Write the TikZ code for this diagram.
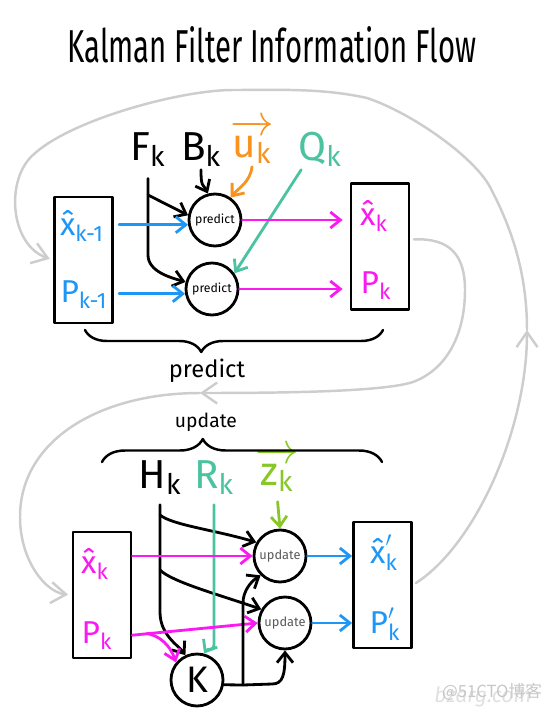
\documentclass[tikz,border=0pt]{standalone}
\usepackage{amsmath}
\usepackage{fontspec}
\setmainfont{Fira Sans}
\newfontfamily\cjkfont{Noto Sans CJK SC}
\usetikzlibrary{arrows.meta,decorations.pathreplacing}

\definecolor{kfblue}{RGB}{30,150,245}
\definecolor{kfpink}{RGB}{250,25,240}
\definecolor{kforange}{RGB}{247,147,30}
\definecolor{kfteal}{RGB}{75,195,160}
\definecolor{kfgreen}{RGB}{135,200,40}
\definecolor{kfloop}{RGB}{205,205,205}

\begin{document}
\begin{tikzpicture}[x=0.02cm,y=-0.02cm,line width=1.6pt,line cap=round,line join=round,
  >={Straight Barb[length=0.2cm,width=0.32cm]},
  store/.style={draw,minimum width=1.16cm,minimum height=2.52cm,inner sep=0pt},
  filt/.style={draw,circle,minimum size=1.04cm,inner sep=0pt},
  sym/.style={anchor=base,inner sep=1pt,font=\fontsize{23}{26}\selectfont},
  vars/.style={anchor=base,inner sep=1pt,font=\fontsize{18}{21}\selectfont},
  feedback/.style={draw=kfloop,line width=1.4pt,-{Straight Barb[length=0.3cm,width=0.42cm]}}]

\useasboundingbox (0,0) rectangle (550,710);

\node[anchor=base] (title) at (272,62) {\resizebox{8.18cm}{0.72cm}{Kalman Filter Information Flow}};

\node[anchor=base,text=black!12,font=\itshape\fontsize{12}{14}\selectfont] (site) at (483,702) {bzarg.com};
\node[anchor=base,text=black!22,font=\cjkfont\fontsize{9.5}{11}\selectfont] (mark) at (492,697) {@51CTO博客};

\node[store] (boxA) at (83.5,260) {};
\node[store] (boxB) at (380,246.5) {};
\node[store] (boxC) at (102,595) {};
\node[store] (boxD) at (382.5,585) {};

\node[vars,kfblue] (xa) at (82,235) {$\text{\^{x}}_{\text{k-1}}$};
\node[vars,kfblue] (pa) at (84,302) {$\text{P}_{\text{k-1}}$};
\node[vars,kfpink] (xb) at (374,225) {$\text{\^{x}}_{\text{k}}$};
\node[vars,kfpink] (pb) at (376,293) {$\text{P}_{\text{k}}$};
\node[vars,kfpink] (xc) at (95,573) {$\text{\^{x}}_{\text{k}}$};
\node[vars,kfpink] (pc) at (97,643) {$\text{P}_{\text{k}}$};
\node[vars,kfblue] (xd) at (384,563) {$\text{\^{x}}'_{\text{k}}$};
\node[vars,kfblue] (pd) at (385,633) {$\text{P}'_{\text{k}}$};

\node[sym] (Fk) at (148,160) {$\text{F}_{\text{k}}$};
\node[sym] (Bk) at (201,160) {$\text{B}_{\text{k}}$};
\node[sym,kforange] (uk) at (252,157) {$\overrightarrow{\text{u}_{\text{k}}}$};
\node[sym,kfteal] (Qk) at (320,160) {$\text{Q}_{\text{k}}$};
\node[sym] (Hk) at (160,488) {$\text{H}_{\text{k}}$};
\node[sym,kfteal] (Rk) at (214,488) {$\text{R}_{\text{k}}$};
\node[sym,kfgreen] (zk) at (277,485) {$\overrightarrow{\text{z}_{\text{k}}}$};

\node[filt,font=\fontsize{7}{8}\selectfont] (pr1) at (215,220) {predict};
\node[filt,font=\fontsize{7}{8}\selectfont] (pr2) at (212,289) {predict};
\node[filt,font=\fontsize{7.3}{8}\selectfont,text=black!65] (up1) at (280,556) {update};
\node[filt,font=\fontsize{7.3}{8}\selectfont,text=black!65] (up2) at (285,623) {update};
\node[filt,font=\fontsize{21}{24}\selectfont] (gain) at (197,680) {K};

\draw[line width=1.4pt,decorate,decoration={brace,mirror,amplitude=0.44cm,aspect=0.39}] (85,330) -- (383,330);
\node[anchor=base,font=\fontsize{13.5}{16}\selectfont] (predlbl) at (207,377) {predict};
\draw[line width=1.4pt,decorate,decoration={brace,amplitude=0.46cm,aspect=0.36}] (102,462) -- (382,462);
\node[anchor=base,font=\fontsize{11}{13}\selectfont] (updlbl) at (206,427) {update};

\coordinate (fsplit) at (148,195);
\coordinate (fbend) at (148,255);
\coordinate (hsplit1) at (160,515);
\coordinate (hsplit2) at (160,570);
\coordinate (hbend) at (160,612);
\coordinate (rbend) at (214,645);
\coordinate (psplit) at (147,633.5);
\coordinate (kjoin) at (243,685);
\coordinate (kturn) at (272,684);
\coordinate (kup) at (243,603);
\coordinate (g1mid) at (200,393);
\coordinate (g2mid) at (527,330);

\draw[feedback,shorten <=2pt] ([yshift=0.14cm]boxB.east) .. controls (450,238) and (465,255) .. (465,290)
  .. controls (465,330) and (450,368) .. (413,382) .. controls (385,391) and (300,393) .. (g1mid);
\draw[feedback,shorten >=2pt] (g1mid) .. controls (100,393) and (20,440) .. (20,517)
  .. controls (20,560) and (45,592) .. (boxC.west);
\draw[feedback,shorten <=2pt] (boxD.east) .. controls (475,545) and (527,430) .. (g2mid);
\draw[feedback,shorten >=2pt] (g2mid) .. controls (527,270) and (510,225) .. (490,187)
  .. controls (474,157) and (412,113) .. (367,98) .. controls (322,88) and (280,90) .. (233,90)
  .. controls (180,90) and (70,120) .. (33,155) .. controls (5,180) and (10,245) .. (boxA.west);

\draw[->,shorten <=5pt] (Fk.south) -- (fbend) .. controls (148,272) and (172,278) .. (pr2.165);
\draw[->] (fsplit) -- (pr1.170);
\draw[->] (Bk.south) .. controls +(0,18) and +(-5,-10) .. (pr1.105);
\draw[->,kforange] (uk.south) .. controls +(-2,16) and +(8,-10) .. (pr1.55);
\draw[->,kfteal] ([xshift=0.12cm]Qk.south west) -- (pr2.35);
\foreach \c in {pr1,pr2}
   \draw[->,kfblue,shorten <=3pt] (boxA.east |- \c.190) -- (\c.190);
\foreach \c in {pr1,pr2}
   \draw[->,kfpink,shorten >=4pt] (\c.east) -- (\c.east -| boxB.west);

\draw[->,shorten <=4pt] (Hk.south) -- (hbend) .. controls (160,635) and (178,645) .. (gain.115);
\draw[->] (hsplit1) .. controls (172,525) and (215,530) .. (up1.150);
\draw[->] (hsplit2) .. controls (172,582) and (220,595) .. (up2.150);
\draw[->,kfteal,shorten <=4pt] (Rk.south) -- (rbend) .. controls +(0,6) and +(3,-5) .. (gain.75);
\draw[->,kfgreen,shorten <=4pt] (zk.south) -- (up1.north);
\draw[->,kfpink] (boxC.east |- up1.west) -- (up1.west);
\draw[->,kfpink] (boxC.east |- pc) -- (up2.west);
\draw[->,kfpink] (psplit) .. controls (160,636) and (170,645) .. (gain.140);
\draw[->] (gain.-10) -- (kjoin) -- (kturn) .. controls (283,684) and (285,675) .. (up2.south);
\draw[->] (kjoin) -- (kup) .. controls (243,592) and (250,582) .. (up1.225);
\foreach \c in {up1,up2}
   \draw[->,kfblue] (\c.east) -- (\c.east -| boxD.west);

\end{tikzpicture}
\end{document}
